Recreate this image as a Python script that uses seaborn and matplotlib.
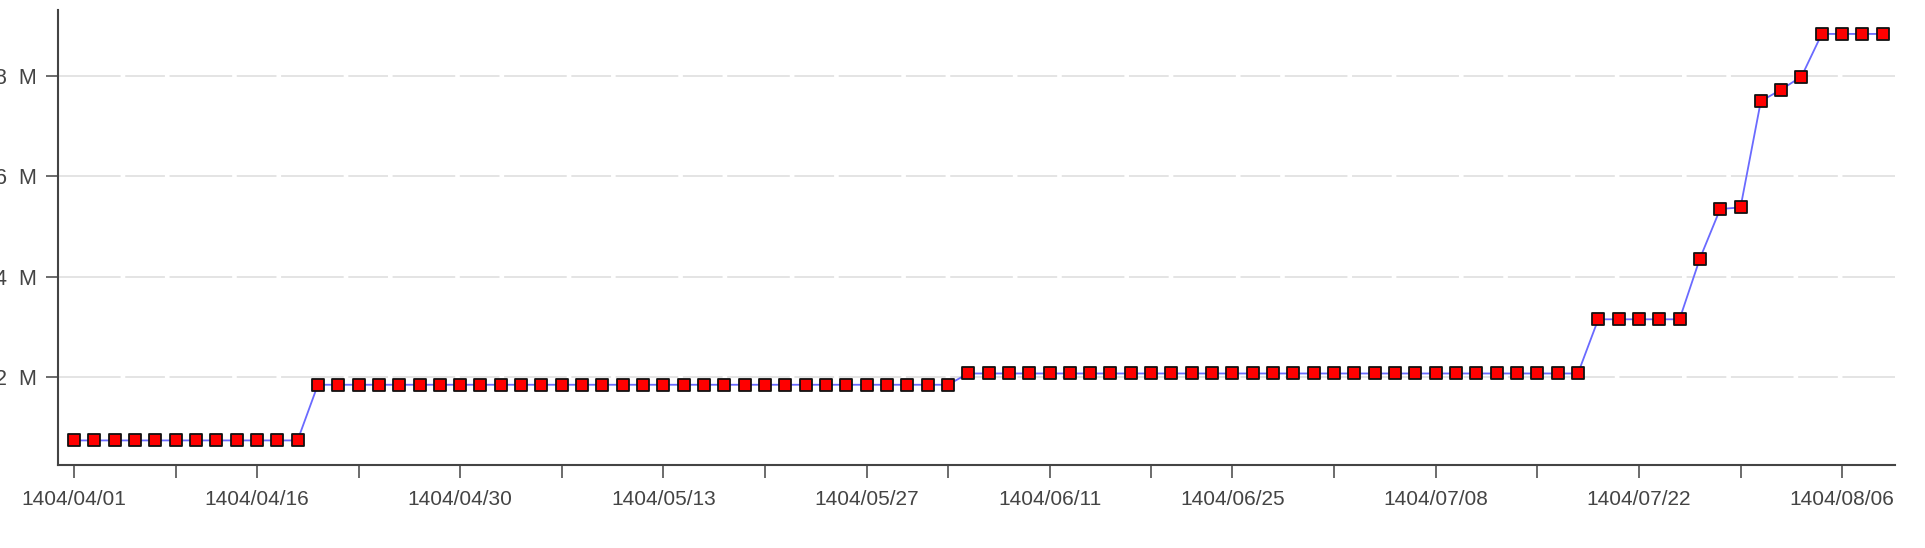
import numpy as np
import pandas as pd
import matplotlib
matplotlib.use("Agg")
import matplotlib.pyplot as plt
from matplotlib.ticker import FuncFormatter
import seaborn as sns

# ---- data ----
values = [
    735000, 735000, 735000, 735000, 735000, 735000, 735000, 735000, 735000, 735000, 735000, 735000,
    1845000, 1845000, 1845000, 1845000, 1845000, 1845000, 1845000, 1845000, 1845000, 1845000,
    1845000, 1845000, 1845000, 1845000, 1845000, 1845000, 1845000, 1845000, 1845000, 1845000,
    1845000, 1845000, 1845000, 1845000, 1845000, 1845000, 1845000, 1845000, 1845000, 1845000,
    1845000, 1845000,
    2070000, 2070000, 2070000, 2070000, 2070000, 2070000, 2070000, 2070000, 2070000, 2070000,
    2070000, 2070000, 2070000, 2070000, 2070000, 2070000, 2070000, 2070000, 2070000, 2070000,
    2070000, 2070000, 2070000, 2070000, 2070000, 2070000, 2070000, 2070000, 2070000, 2070000,
    2070000,
    3150000, 3150000, 3150000, 3150000, 3150000,
    4360000, 5350000, 5380000, 7500000, 7730000, 7990000,
    8840000, 8840000, 8840000, 8840000,
]
tick_labels = ["1404/04/01", "", "1404/04/16", "", "1404/04/30", "", "1404/05/13", "",
               "1404/05/27", "", "1404/06/11", "", "1404/06/25", "", "1404/07/08", "",
               "1404/07/22", "", "1404/08/06"]
tick_points = [0, 5, 9, 14, 19, 24, 29, 34, 39, 43, 48, 53, 57, 62, 67, 72, 77, 82, 87]
y_ticks = [2000000, 4000000, 6000000, 8000000]

df = pd.DataFrame({"idx": np.arange(len(values)), "value": values})

sns.set_theme(style="white")
plt.rcParams["font.family"] = ["Liberation Sans", "DejaVu Sans"]

fig = plt.figure(figsize=(19.25, 5.48), dpi=100)
ax = fig.add_axes([0.030, 0.151, 0.9544, 0.831])

sns.lineplot(data=df, x="idx", y="value", ax=ax, color="#6a6aff", linewidth=1.3, zorder=2)
sns.scatterplot(data=df, x="idx", y="value", ax=ax, marker="s", s=72, color="#ff0000",
                edgecolor="#111111", linewidth=1.3, zorder=3)

ax.set_xlim(-0.8, 89.6)
ax.set_ylim(240000, 9320000)
ax.set_xticks(tick_points)
ax.set_xticklabels(tick_labels)
ax.set_yticks(y_ticks)
ax.yaxis.set_major_formatter(FuncFormatter(lambda v, p: f"{v/1e6:.0f}  M"))
ax.set_xlabel("")
ax.set_ylabel("")

ax.grid(axis="y", color="#dddddd", linewidth=1.1, linestyle=(0, (41, 3, 26, 3)))
ax.grid(axis="x", visible=False)
for s in ["top", "right"]:
    ax.spines[s].set_visible(False)
for s in ["left", "bottom"]:
    ax.spines[s].set_color("#444444")
    ax.spines[s].set_linewidth(1.5)

ax.tick_params(axis="x", direction="out", length=9, width=1.1, color="#444444",
               labelsize=15, labelcolor="#444444", pad=9, bottom=True)
ax.tick_params(axis="y", direction="out", length=9, width=1.1, color="#444444",
               labelsize=15.5, labelcolor="#444444", pad=6, left=True)

fig.savefig("out.png", dpi=100)
